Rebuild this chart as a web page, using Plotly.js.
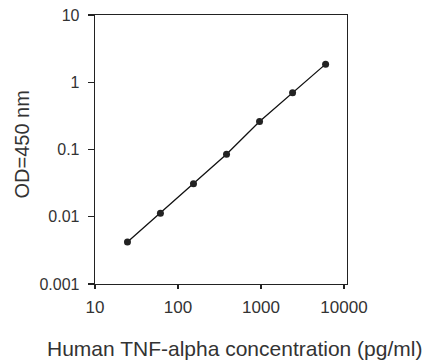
<!DOCTYPE html>
<html>
<head>
<meta charset="utf-8">
<script src="https://cdn.plot.ly/plotly-3.0.1.min.js"></script>
<style>html,body{margin:0;padding:0;background:#fff;}#chart{width:428px;height:364px;}</style>
</head>
<body>
<div id="chart"></div>
<script>
// Standard curve data
const concentration = [24.6, 61.4, 153.6, 384, 960, 2400, 6000];
const od450 = [0.0042, 0.0113, 0.031, 0.085, 0.26, 0.70, 1.86];

const xTickVals = [10, 100, 1000, 10000];
const xTickText = ['10', '100', '1000', '10000'];
const yTickVals = [0.001, 0.01, 0.1, 1, 10];
const yTickText = ['0.001', '0.01', '0.1', '1', '10'];

const xTitle = 'Human TNF-alpha concentration (pg/ml)';
const yTitle = 'OD=450 nm';

const FONT = '"Liberation Sans", Arial, sans-serif';

const trace = {
  x: concentration,
  y: od450,
  type: 'scatter',
  mode: 'lines+markers',
  line: {color: '#111', width: 1.3},
  marker: {color: '#222', size: 7, symbol: 'circle'},
  hoverinfo: 'x+y',
  showlegend: false
};

const layout = {
  width: 428,
  height: 364,
  margin: {l: 95, r: 81, t: 15, b: 80, pad: 0},
  paper_bgcolor: '#fff',
  plot_bgcolor: '#fff',
  font: {family: FONT, color: '#333'},
  showlegend: false,
  xaxis: {
    type: 'log',
    range: [1, 4.036],
    tickvals: xTickVals,
    ticktext: xTickText,
    ticks: 'outside',
    ticklen: 4,
    tickwidth: 1.2,
    tickcolor: '#222',
    showline: true,
    linecolor: '#222',
    linewidth: 1.3,
    mirror: true,
    showgrid: false,
    zeroline: false,
    tickfont: {family: FONT, size: 17, color: '#333'},
    ticklabelstandoff: 3
  },
  yaxis: {
    type: 'log',
    range: [-3, 1],
    tickvals: yTickVals,
    ticktext: yTickText,
    ticks: 'outside',
    ticklen: 6,
    tickwidth: 1.2,
    tickcolor: '#222',
    showline: true,
    linecolor: '#222',
    linewidth: 1.3,
    mirror: true,
    showgrid: false,
    zeroline: false,
    tickfont: {family: FONT, size: 16, color: '#333'},
    ticklabelstandoff: 5
  },
  annotations: [
    {
      text: xTitle,
      xref: 'paper', yref: 'paper',
      x: 0.552, y: -0.2416,
      xanchor: 'center', yanchor: 'middle',
      showarrow: false,
      font: {family: FONT, size: 21, color: '#333'}
    },
    {
      text: yTitle,
      xref: 'paper', yref: 'paper',
      x: -0.2877, y: 0.5204,
      xanchor: 'center', yanchor: 'middle',
      textangle: -90,
      showarrow: false,
      font: {family: FONT, size: 20, color: '#333'}
    }
  ]
};

Plotly.newPlot('chart', [trace], layout, {displayModeBar: false, staticPlot: true});
</script>
</body>
</html>
